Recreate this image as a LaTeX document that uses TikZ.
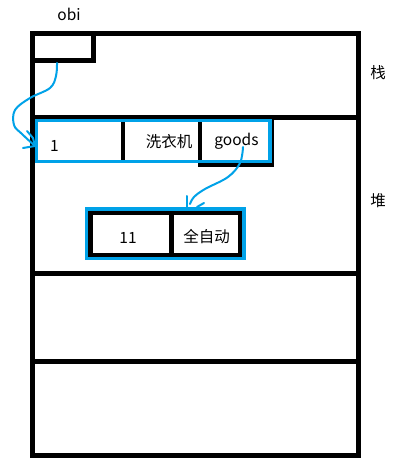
\documentclass[tikz,border=0pt]{standalone}
\usepackage{fontspec}
\setmainfont{Noto Sans CJK SC}
\begin{document}
\begin{tikzpicture}[x=1pt,y=-1pt,
  frame/.style={draw=black,line width=5pt},
  cellbox/.style={draw=black,line width=4.5pt},
  objbox/.style={draw=paintblue,line width=3.5pt},
  ptr/.style={draw=paintblue,line width=2pt,line cap=round},
  lbl/.style={inner sep=0pt,font=\fontsize{15.5}{18}\selectfont}]
\definecolor{paintblue}{HTML}{00A2E8}
\useasboundingbox (0,0) rectangle (407,476);
\fill[white] (0,0) rectangle (407,476);
% outer frame and dividers
\draw[frame] (32,34) rectangle (358,455);
\draw[frame] (32,118) -- (358,118);
\draw[frame] (32,273.5) -- (358,273.5);
\draw[frame] (32,361.5) -- (358,361.5);
% stack slot
\draw[frame] (32,34) rectangle (93.5,60.5);
\coordinate (slot) at (57,63);
% first object
\draw[draw=black,line width=3.5pt] (200,118) rectangle (272,165);
\draw[cellbox] (123,121) -- (123,162);
\draw[cellbox] (200,121) -- (200,164);
\draw[objbox] (36.7,120.7) rectangle (270,161.3);
\node[lbl] (n1) at (54.5,146) {1};
\node[lbl] (wash) at (169,142) {洗衣机};
\node[lbl] (goods) at (236.5,141) {goods};
% second object
\draw[cellbox] (90.5,212.3) rectangle (240.5,255);
\draw[cellbox] (171.7,212.3) -- (171.7,255);
\draw[objbox] (86.5,209) rectangle (244,258.5);
\node[lbl] (n11) at (128,238) {11};
\node[lbl] (auto) at (206.7,237) {全自动};
% labels
\node[lbl] (obi) at (69,14) {obi};
\node[lbl] (zhan) at (378,73) {栈};
\node[lbl] (dui) at (378,201) {堆};
% pointer 1
\coordinate (tip1) at (35,146);
\draw[ptr] plot[smooth,tension=0.6] coordinates {(slot) (56,76) (50,88) (30,98) (15,110) (14,125) (22,134) (35,146)};
\draw[ptr] (27,131) -- (33,138) -- (tip1);
\draw[ptr] (23,148) -- (tip1);
% pointer 2
\coordinate (gstart) at (243,147);
\coordinate (tip2) at (190,204);
\draw[ptr] plot[smooth,tension=0.6] coordinates {(gstart) (240,163) (228,177) (205,189) (194,197) (tip2)};
\draw[ptr] (187,196) -- (187,207);
\draw[ptr] (197,207) -- (204,203);
\end{tikzpicture}
\end{document}
